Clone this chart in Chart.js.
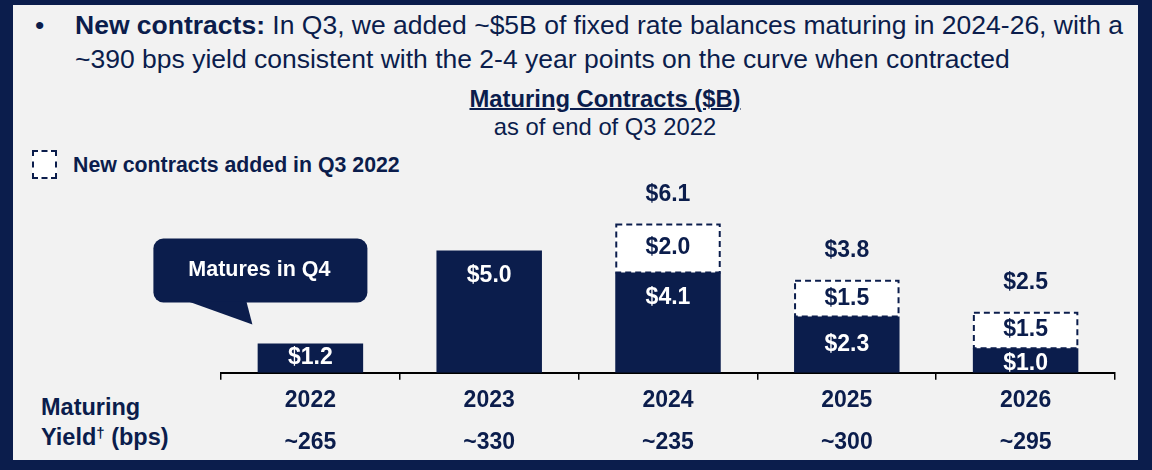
<!DOCTYPE html>
<html>
<head>
<meta charset="utf-8">
<script src="https://cdn.jsdelivr.net/npm/chart.js@4.4.1/dist/chart.umd.min.js"></script>
<style>
  body { margin: 0; width: 1152px; height: 470px; background: #0b1d4c; position: relative; overflow: hidden;
         font-family: "Liberation Sans", Arial, sans-serif; color: #0b1d4c; }
  #panel { position: absolute; left: 13px; top: 5px; width: 1125px; height: 455px; background: #f2f2f2; }
  .txt { position: absolute; white-space: nowrap; }
  #bullet { left: 35px; top: 8px; font-size: 26.5px; line-height: 34px; }
  #headline { left: 75px; top: 8px; font-size: 26.5px; line-height: 34px; }
  #title { left: 405px; top: 85px; width: 400px; text-align: center; font-size: 23.8px; line-height: 28px; }
  #title b { text-decoration: underline; text-decoration-thickness: 2px; }
  #legendBox { position: absolute; left: 32px; top: 150px; width: 25px; height: 29px; box-sizing: border-box;
               border: 2px dashed #0b1d4c; background: #fff; }
  #legendText { left: 73px; top: 150px; font-size: 21.3px; line-height: 30px; font-weight: bold; }
  #yieldLabel { left: 41px; top: 392px; font-size: 23.5px; line-height: 30px; font-weight: bold; }
  #yieldLabel span { font-size: 15px; position: relative; top: -7px; }
  canvas { position: absolute; left: 0; top: 0; }
</style>
</head>
<body>
<div id="panel"></div>
<div class="txt" id="bullet">•</div>
<div class="txt" id="headline"><b>New contracts:</b> In Q3, we added ~$5B of fixed rate balances maturing in 2024-26, with a<br>~390 bps yield consistent with the 2-4 year points on the curve when contracted</div>
<div class="txt" id="title"><b>Maturing Contracts ($B)</b><br>as of end of Q3 2022</div>
<div id="legendBox"></div>
<div class="txt" id="legendText">New contracts added in Q3 2022</div>
<div class="txt" id="yieldLabel">Maturing<br>Yield<span>†</span> (bps)</div>
<canvas id="chart" width="1152" height="470"></canvas>
<script>
// Maturing contracts ($B) by year
const years = ['2022', '2023', '2024', '2025', '2026'];
const existing = [1.2, 5.0, 4.1, 2.3, 1.0];
const added = [null, null, 2.0, 1.5, 1.5];
const yields = ['~265', '~330', '~235', '~300', '~295'];

const navy = '#0b1d4c';
const fontFam = '"Liberation Sans", Arial, sans-serif';

const labelPlugin = {
    id: 'barLabels',
    afterDatasetsDraw(chart) {
        const ctx = chart.ctx;
        const base = chart.getDatasetMeta(0).data;
        const top = chart.getDatasetMeta(1).data;
        ctx.save();
        ctx.textAlign = 'center';
        ctx.textBaseline = 'middle';
        ctx.font = 'bold 23px ' + fontFam;

        // dashed outline on new contracts + labels
        top.forEach((bar, i) => {
            if (added[i] == null) return;
            const p = bar.getProps(['x', 'y', 'base', 'width'], true);
            ctx.strokeStyle = navy;
            ctx.lineWidth = 2;
            ctx.setLineDash([6, 4]);
            ctx.strokeRect(p.x - p.width / 2 + 1, p.y + 1, p.width - 2, p.base - p.y - 1);
            ctx.setLineDash([]);
            ctx.fillStyle = navy;
            ctx.fillText('$' + added[i].toFixed(1), p.x, (p.y + p.base) / 2);
            const total = existing[i] + added[i];
            ctx.fillText('$' + total.toFixed(1), p.x, p.y - 29);
        });

        // existing balances
        base.forEach((bar, i) => {
            const p = bar.getProps(['x', 'y', 'base'], true);
            const h = p.base - p.y;
            const y = h > 70 ? p.y + 25 : (p.y + p.base) / 2 + (h < 28 ? 3 : 0);
            ctx.fillStyle = '#ffffff';
            ctx.fillText('$' + existing[i].toFixed(1), p.x, y);
        });

        // callout over the 2022 bar
        const b = base[0].getProps(['x', 'y'], true);
        const left = b.x - 157, right = b.x + 57, t = b.y - 105, bot = b.y - 41;
        ctx.fillStyle = navy;
        ctx.beginPath();
        ctx.roundRect(left, t, right - left, bot - t, 10);
        ctx.fill();
        ctx.beginPath();
        ctx.moveTo(b.x - 122, bot - 1);
        ctx.lineTo(b.x - 64, bot - 1);
        ctx.lineTo(b.x - 58, b.y - 19);
        ctx.closePath();
        ctx.fill();
        ctx.fillStyle = '#ffffff';
        ctx.font = 'bold 21.5px ' + fontFam;
        ctx.fillText('Matures in Q4', b.x - 51, b.y - 73);
        ctx.restore();
    }
};

new Chart(document.getElementById('chart').getContext('2d'), {
    type: 'bar',
    data: {
        labels: years.map((y, i) => [y, yields[i]]),
        datasets: [{
                label: 'Existing',
                data: existing,
                backgroundColor: navy,
                categoryPercentage: 1,
                barPercentage: 0.59
            }, {
                label: 'New contracts added in Q3 2022',
                data: added,
                backgroundColor: '#ffffff',
                categoryPercentage: 1,
                barPercentage: 0.59
            }]
    },
    options: {
        responsive: false,
        animation: false,
        layout: {
            padding: {left: 221, right: 37, top: 177, bottom: 6}
        },
        scales: {
            x: {
                stacked: true,
                grid: {
                    display: true,
                    drawOnChartArea: false,
                    tickLength: 7,
                    color: '#000',
                    lineWidth: 1.5
                },
                border: {display: true, color: '#000', width: 2},
                ticks: {
                    color: navy,
                    padding: 0,
                    font: {family: fontFam, size: 23, weight: 'bold', lineHeight: 1.83}
                }
            },
            y: {
                stacked: true,
                display: false,
                min: 0,
                max: 8
            }
        },
        plugins: {
            legend: {display: false},
            tooltip: {enabled: false}
        }
    },
    plugins: [labelPlugin]
});
</script>
</body>
</html>
